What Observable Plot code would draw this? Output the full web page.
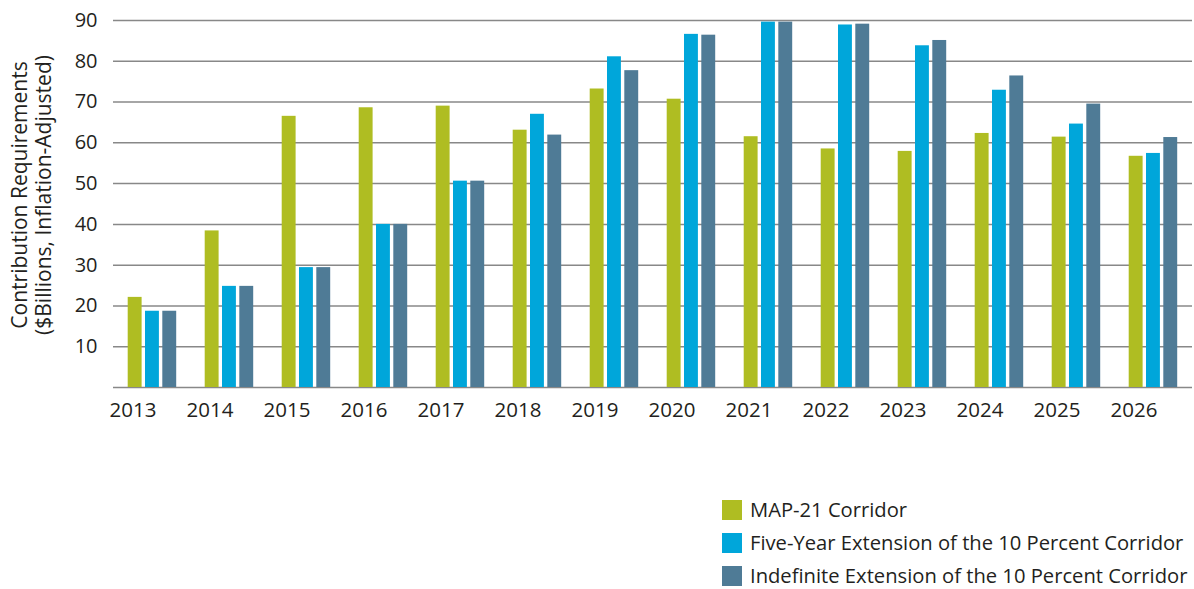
<!DOCTYPE html>
<html>
<head>
<meta charset="utf-8">
<script src="https://cdn.jsdelivr.net/npm/d3@7"></script>
<script src="https://cdn.jsdelivr.net/npm/@observablehq/plot@0.6"></script>
<style>
  body { margin: 0; background: #fff; font-family: "Open Sans", Lato, sans-serif; color: #231f20; }
  #chart { position: relative; width: 1194px; }
  .legend { margin-left: 722px; margin-top: 66px; }
  .legend .row { display: flex; align-items: center; height: 33px; font-size: 20.2px; line-height: 1; }
  .legend .sw { width: 20px; height: 20px; margin-right: 8px; flex: none; }
</style>
</head>
<body>
<div id="chart"></div>
<script>
const years = ["2013","2014","2015","2016","2017","2018","2019","2020","2021","2022","2023","2024","2025","2026"];
const seriesNames = [
  "MAP-21 Corridor",
  "Five-Year Extension of the 10 Percent Corridor",
  "Indefinite Extension of the 10 Percent Corridor"
];
const map21      = [22.1, 38.4, 66.5, 68.6, 69.0, 63.1, 73.2, 70.7, 61.5, 58.5, 57.9, 62.3, 61.4, 56.7];
const fiveYear   = [18.7, 24.8, 29.4, 40.0, 50.6, 67.0, 81.1, 86.6, 89.6, 88.9, 83.8, 72.9, 64.6, 57.4];
const indefinite = [18.7, 24.8, 29.4, 40.0, 50.6, 61.9, 77.7, 86.4, 89.6, 89.1, 85.1, 76.4, 69.5, 61.3];
const yTicks = [10, 20, 30, 40, 50, 60, 70, 80, 90];
const colors = ["#afbd22", "#00a6da", "#4f7b96"];
const yLabel = "Contribution Requirements\n($Billions, Inflation-Adjusted)";

const seriesValues = [map21, fiveYear, indefinite];
const seriesData = seriesNames.map((s, j) =>
  years.map((yr, i) => ({year: yr, series: s, value: seriesValues[j][i]}))
);

// bar placement inside each year band (px insets): width 14, gap 3.3
const insets = [
  {insetLeft: 13.7, insetRight: 49.4},
  {insetLeft: 31.0, insetRight: 32.1},
  {insetLeft: 48.3, insetRight: 14.8}
];

const chart = Plot.plot({
  width: 1194,
  height: 427,
  marginLeft: 113,
  marginRight: 2,
  marginTop: 20,
  marginBottom: 40,
  style: {fontFamily: "'Open Sans', Lato, sans-serif", fontSize: "18px", color: "#231f20", background: "#fff"},
  x: {domain: years, padding: 0, label: null},
  y: {domain: [0, 90], label: null},
  color: {domain: seriesNames, range: colors},
  marks: [
    Plot.ruleY(yTicks, {stroke: "#888", strokeWidth: 1.5}),
    Plot.ruleY([0], {stroke: "#888", strokeWidth: 1.5}),
    ...seriesData.map((d, j) => Plot.barY(d, {x: "year", y: "value", fill: "series", ...insets[j]})),
    Plot.axisY(yTicks, {tickSize: 0, tickPadding: 16, label: null, fontSize: 20}),
    Plot.axisX({tickSize: 0, tickPadding: 15, dx: -20, label: null, fontSize: 20.5}),
    Plot.text([yLabel], {frameAnchor: "left", rotate: -90, dx: -82.5, dy: -9, textAnchor: "middle", lineAnchor: "middle", fontSize: 21, lineHeight: 1.14, fill: "#231f20"})
  ]
});
document.getElementById("chart").appendChild(chart);

const legend = document.createElement("div");
legend.className = "legend";
seriesNames.forEach((s, i) => {
  const row = document.createElement("div");
  row.className = "row";
  const sw = document.createElement("span");
  sw.className = "sw";
  sw.style.background = colors[i];
  const label = document.createElement("span");
  label.textContent = s;
  row.appendChild(sw);
  row.appendChild(label);
  legend.appendChild(row);
});
document.body.appendChild(legend);
</script>
</body>
</html>
